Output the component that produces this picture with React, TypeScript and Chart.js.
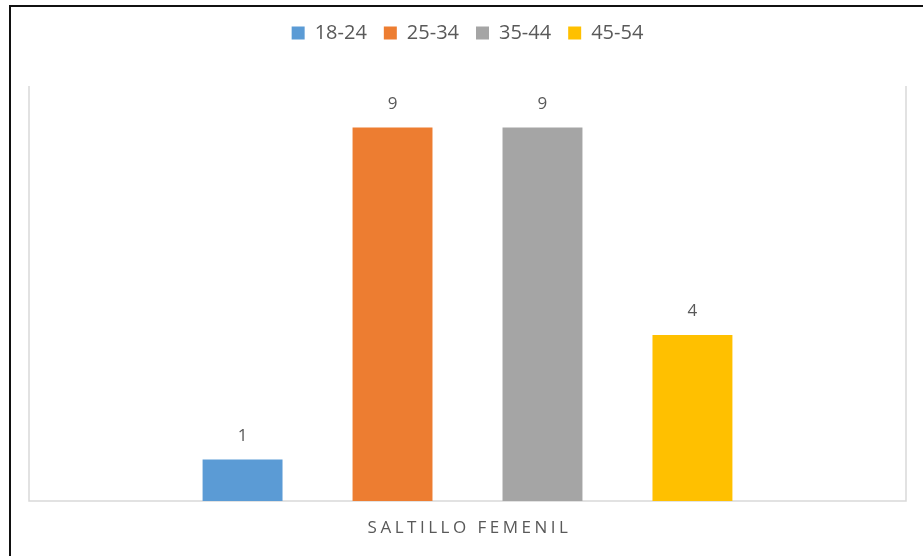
import React, { useEffect, useRef } from "react";
import { Chart, registerables } from "chart.js";

Chart.register(...registerables);

const categories = ["SALTILLO FEMENIL"];
const seriesNames = ["18-24", "25-34", "35-44", "45-54"];
const seriesValues = [[1], [9], [9], [4]];
const seriesColors = ["#5B9BD5", "#ED7D31", "#A5A5A5", "#FFC000"];
const yMin = 0;
const yMax = 10;

const TEXT = "#595959";
const FONT = "'Open Sans', 'Noto Sans', sans-serif";

const legendGap = {
  id: "legendGap",
  beforeLayout(chart: any) {
    const lg = chart.legend;
    if (lg && !lg.__patched) {
      const orig = lg.fit;
      lg.fit = function () {
        orig.call(this);
        this.height += 33;
      };
      lg.__patched = true;
    }
  },
};

const frame = {
  id: "frame",
  beforeDatasetsDraw(chart: any) {
    const { ctx, chartArea } = chart;
    const y = chart.scales.y;
    const top = y.getPixelForValue(yMax);
    ctx.save();
    ctx.strokeStyle = "#D9D9D9";
    ctx.lineWidth = 1.5;
    ctx.beginPath();
    ctx.moveTo(chartArea.left, top);
    ctx.lineTo(chartArea.left, chartArea.bottom);
    ctx.lineTo(chartArea.right, chartArea.bottom);
    ctx.lineTo(chartArea.right, top);
    ctx.stroke();
    ctx.restore();
  },
  afterDatasetsDraw(chart: any) {
    const { ctx, chartArea } = chart;
    ctx.save();
    ctx.fillStyle = TEXT;
    ctx.font = `17px ${FONT}`;
    ctx.textAlign = "center";
    ctx.textBaseline = "alphabetic";
    chart.data.datasets.forEach((ds: any, i: number) => {
      const meta = chart.getDatasetMeta(i);
      meta.data.forEach((bar: any, j: number) => {
        ctx.fillText(String(ds.data[j]), bar.x, bar.y - 19);
      });
    });
    const x = chart.scales.x;
    ctx.font = `17px ${FONT}`;
    (ctx as any).letterSpacing = "3.5px";
    categories.forEach((c, i) => {
      ctx.fillText(c, x.getPixelForValue(i) + 2, chartArea.bottom + 32);
    });
    ctx.restore();
  },
};

export default function App() {
  const ref = useRef<HTMLCanvasElement | null>(null);
  useEffect(() => {
    if (!ref.current) return;
    const chart = new Chart(ref.current, {
      type: "bar",
      data: {
        labels: categories,
        datasets: seriesNames.map((name, i) => ({
          label: name,
          data: seriesValues[i],
          backgroundColor: seriesColors[i],
          borderWidth: 0,
          categoryPercentage: 0.684,
          barPercentage: 0.533,
        })),
      },
      options: {
        responsive: false,
        animation: false,
        devicePixelRatio: 1,
        layout: { padding: { left: 29, right: 17, top: 6, bottom: 55 } },
        plugins: {
          legend: {
            position: "top",
            labels: {
              color: TEXT,
              font: { family: FONT, size: 20 },
              boxWidth: 13,
              boxHeight: 13,
              padding: 17,
            },
          },
          tooltip: { enabled: false },
        },
        scales: {
          x: { display: false },
          y: { display: false, min: yMin, max: yMax },
        },
      },
      plugins: [legendGap, frame],
    });
    return () => chart.destroy();
  }, []);
  return (
    <div
      style={{
        position: "fixed",
        left: 0,
        top: 0,
        width: 923,
        height: 556,
        overflow: "hidden",
        background: "#fff",
      }}
    >
      <canvas
        ref={ref}
        width={923}
        height={556}
        style={{ position: "absolute", left: 0, top: 0, display: "block" }}
      />
      <div
        style={{
          position: "absolute",
          left: 9,
          top: 5,
          width: 960,
          height: 600,
          border: "2px solid #111",
          pointerEvents: "none",
        }}
      />
    </div>
  );
}
